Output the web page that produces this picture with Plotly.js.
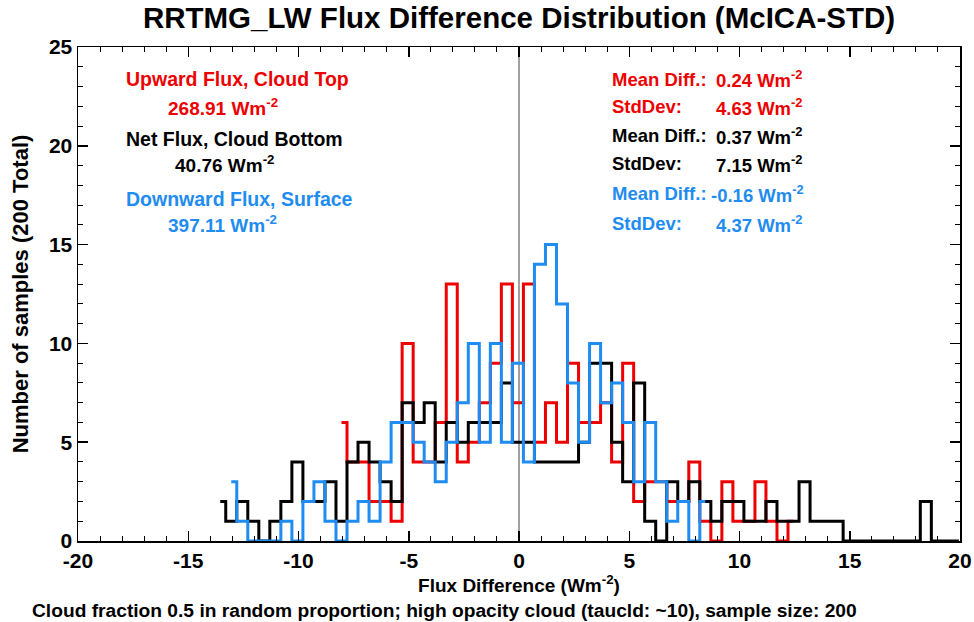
<!DOCTYPE html>
<html><head><meta charset="utf-8">
<script src="https://cdn.plot.ly/plotly-3.0.1.min.js"></script>
<style>html,body{margin:0;padding:0;background:#fff}#chart{width:974px;height:622px}</style>
</head><body><div id="chart"></div>
<script>
// ---- data (bin centres start + counts, bin width 0.5) ----
const binWidth = 0.5;
const redStart = -8.05;
const redCounts = [6,4,4,2,2,1,10,4,4,6,13,4,5,7,9,13,7,13,5,7,5,9,6,6,7,4,9,2,3,3,2,2,4,1,0,3,1,1,3,1,0,1];
const blackStart = -13.55;
const blackCounts = [2,1,2,1,0,1,2,4,2,2,3,1,4,5,
                     4,3,2,7,6,7,4,6,5,6,6,6,8,5,
                     5,4,4,4,4,5,9,9,5,3,8,
                     1,0,3,2,3,2,1,2,2,1,1,2,1,1,3,1,1,1,
                     0,0,0,0,0,0,0,2,0,0,0];
const blueStart = -13.05;
const blueCounts = [3,1,0,0,0,1,0,2,3,1,0,1,2,
                    1,4,6,6,5,4,3,5,7,10,5,10,
                    5,9,4,14,15,12,8,5,10,7,8,6,
                    3,6,3,1,2,0,2];
const xTickVals = [-20,-15,-10,-5,0,5,10,15,20];
const xTickText = ['-20','-15','-10','-5','0','5','10','15','20'];
const yTickVals = [0,5,10,15,20,25];
const yTickText = ['0','5','10','15','20','25'];
const leftLabels = ['Upward Flux, Cloud Top','Net Flux, Cloud Bottom','Downward Flux, Surface'];
const leftValues = ['268.91','40.76','397.11'];
const meanDiffs = ['0.24','0.37','-0.16'];
const stdDevs = ['4.63','7.15','4.37'];
const colors = ['rgb(238,0,0)','#000000','rgb(30,140,240)'];
const caption = 'Cloud fraction 0.5 in random proportion; high opacity cloud (taucld: ~10), sample size: 200';

function centres(start, counts){ return counts.map((_, i) => +(start + i*binWidth).toFixed(3)); }

const FONT = 'Liberation Sans, Arial, sans-serif';
function mk(start, counts, color){
  return {x: centres(start, counts), y: counts, type:'scatter', mode:'lines',
          line:{shape:'hvh', color:color, width:3}, hoverinfo:'skip', showlegend:false};
}
const traces = [mk(redStart, redCounts, colors[0]), mk(blackStart, blackCounts, colors[1]), mk(blueStart, blueCounts, colors[2])];

const sup = ' Wm<sup>-2</sup>';
const ann = [];
const TS = 19.5, RS = 18.5;
const leftY = [[23.38,21.97],[20.35,19.09],[17.32,16.06]];
const leftValX = [-16.03,-15.67,-16.03];
for (let i=0;i<3;i++){
  ann.push({x:-17.93, y:leftY[i][0], xref:'x', yref:'y', text:leftLabels[i], showarrow:false, xanchor:'left', yanchor:'middle', font:{family:FONT,size:TS,weight:'bold',color:colors[i]}});
  ann.push({x:leftValX[i], y:leftY[i][1], xref:'x', yref:'y', text:leftValues[i]+sup, showarrow:false, xanchor:'left', yanchor:'middle', font:{family:FONT,size:TS-0.5,weight:'bold',color:colors[i]}});
}
const rightY = [[23.38,21.97],[20.5,19.09],[17.58,16.06]];
for (let i=0;i<3;i++){
  ann.push({x:4.12, y:rightY[i][0], xref:'x', yref:'y', text:'Mean Diff.:', showarrow:false, xanchor:'left', yanchor:'middle', font:{family:FONT,size:RS,weight:'bold',color:colors[i]}});
  ann.push({x:meanDiffs[i].startsWith('-')?8.62:8.85, y:rightY[i][0], xref:'x', yref:'y', text:meanDiffs[i]+sup, showarrow:false, xanchor:'left', yanchor:'middle', font:{family:FONT,size:RS,weight:'bold',color:colors[i]}});
  ann.push({x:4.12, y:rightY[i][1], xref:'x', yref:'y', text:'StdDev:', showarrow:false, xanchor:'left', yanchor:'middle', font:{family:FONT,size:RS,weight:'bold',color:colors[i]}});
  ann.push({x:8.85, y:rightY[i][1], xref:'x', yref:'y', text:stdDevs[i]+sup, showarrow:false, xanchor:'left', yanchor:'middle', font:{family:FONT,size:RS,weight:'bold',color:colors[i]}});
}
ann.push({x:-0.0544, y:-0.1397, xref:'paper', yref:'paper', text:caption, showarrow:false, xanchor:'left', yanchor:'middle', font:{family:FONT,size:19.2,weight:'bold',color:'#000'}});

const axisCommon = {showline:true, linewidth:1.5, linecolor:'#000', mirror:'allticks', ticks:'inside', ticklen:10, tickwidth:1.5, tickcolor:'#000',
  showgrid:false, zeroline:false, tickfont:{family:FONT,size:21,weight:'bold',color:'#000'}};

const layout = {
  width:974, height:622, paper_bgcolor:'#fff', plot_bgcolor:'#fff',
  margin:{l:78, r:14, t:47, b:81},
  title:{text:'RRTMG_LW Flux Difference Distribution (McICA-STD)', x:0.5, xref:'paper', y:0.971, yref:'container', yanchor:'middle', font:{family:FONT,size:29.5,weight:'bold',color:'#000'}},
  xaxis:Object.assign({}, axisCommon, {range:[-20,20], tickmode:'array', tickvals:xTickVals, ticktext:xTickText,
    minor:{tickmode:'linear', tick0:0, dtick:1, ticks:'inside', ticklen:5, tickwidth:1, tickcolor:'#000'},
    title:{text:'Flux Difference (Wm<sup>-2</sup>)', standoff:4, font:{family:FONT,size:19,weight:'bold',color:'#000'}}}),
  yaxis:Object.assign({}, axisCommon, {range:[0,25], tickmode:'array', tickvals:yTickVals, ticktext:yTickText,
    minor:{tickmode:'linear', tick0:0, dtick:1, ticks:'inside', ticklen:5, tickwidth:1, tickcolor:'#000'},
    title:{text:'Number of samples (200 Total)', standoff:14, font:{family:FONT,size:22,weight:'bold',color:'#000'}}}),
  shapes:[{type:'line', xref:'x', yref:'y', x0:0, x1:0, y0:0, y1:25, line:{color:'#808080', width:1.5}, layer:'below'}],
  annotations:ann
};
Plotly.newPlot('chart', traces, layout, {staticPlot:true, displayModeBar:false});
</script></body></html>
